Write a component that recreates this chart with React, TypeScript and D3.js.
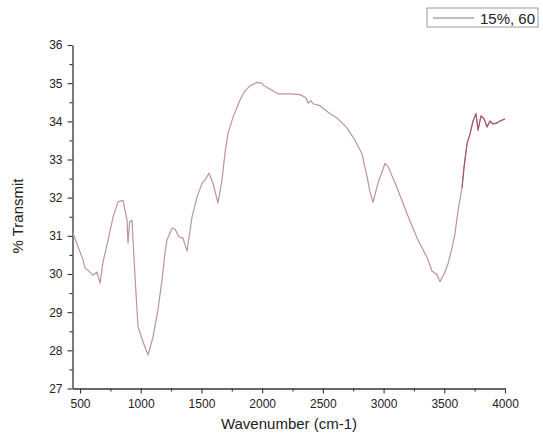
import React, { useEffect, useRef } from "react";
import * as d3 from "d3";

// FTIR spectrum
const wavenumber = [
  442, 484, 525, 541, 582, 607, 640, 665, 689, 731, 772, 813, 854, 887, 895, 908,
  928, 953, 978, 1019, 1060, 1101, 1142, 1175, 1200, 1216, 1258, 1282, 1315, 1348,
  1381, 1398, 1422, 1464, 1505, 1529, 1562, 1595, 1636, 1669, 1694, 1719, 1760,
  1818, 1859, 1900, 1958, 1999, 2007, 2065, 2131, 2229, 2312, 2361, 2378, 2402,
  2419, 2476, 2559, 2616, 2699, 2765, 2822, 2864, 2888, 2913, 2954, 3012, 3036,
  3111, 3193, 3275, 3358, 3399, 3440, 3465, 3506, 3531, 3564, 3588, 3613, 3646,
  3662, 3687, 3712, 3736, 3761, 3778, 3802, 3827, 3852, 3876, 3901, 3934, 3967, 4000,
];
const transmit = [
  31.07, 30.71, 30.37, 30.16, 30.05, 29.97, 30.05, 29.76, 30.31, 30.89, 31.49, 31.89,
  31.93, 31.41, 30.81, 31.36, 31.41, 29.92, 28.61, 28.22, 27.88, 28.35, 29.06, 29.84,
  30.55, 30.89, 31.2, 31.18, 30.97, 30.94, 30.6, 30.97, 31.49, 32.02, 32.38, 32.46,
  32.64, 32.38, 31.86, 32.46, 33.17, 33.69, 34.11, 34.56, 34.8, 34.93, 35.02, 35.0,
  34.95, 34.84, 34.72, 34.72, 34.7, 34.62, 34.48, 34.54, 34.46, 34.41, 34.2, 34.09,
  33.83, 33.5, 33.15, 32.55, 32.15, 31.88, 32.38, 32.9, 32.82, 32.26, 31.58, 30.95,
  30.43, 30.08, 29.98, 29.8, 30.06, 30.27, 30.69, 31.05, 31.66, 32.26, 32.78, 33.41,
  33.67, 34.0, 34.2, 33.77, 34.14, 34.07, 33.85, 34.01, 33.93, 33.96, 34.02, 34.06,
];

const xTicks = [500, 1000, 1500, 2000, 2500, 3000, 3500, 4000];
const xMinorTicks = [750, 1250, 1750, 2250, 2750, 3250, 3750];
const yTicks = [27, 28, 29, 30, 31, 32, 33, 34, 35, 36];
const yMinorTicks = [27.5, 28.5, 29.5, 30.5, 31.5, 32.5, 33.5, 34.5, 35.5];
const seriesName = "15%, 60";

const font = "'Liberation Sans', Arial, sans-serif";

export default function App() {
  const ref = useRef<SVGSVGElement>(null);

  useEffect(() => {
    const svg = d3.select(ref.current);
    svg.selectAll("*").remove();

    const x = d3.scaleLinear().domain([438, 4000]).range([72.5, 505]);
    const y = d3.scaleLinear().domain([27, 36]).range([388.5, 45]);
    const axisColor = "#333";

    // y axis
    const gy = svg.append("g").attr("transform", `translate(${x.range()[0]},0)`);
    gy.call(d3.axisLeft(y).tickValues(yTicks).tickSize(5).tickSizeOuter(0).tickPadding(5)
      .tickFormat(d3.format("d")));
    gy.append("g").call(d3.axisLeft(y).tickValues(yMinorTicks).tickSize(3).tickFormat(() => ""))
      .select(".domain").remove();

    // x axis
    const gx = svg.append("g").attr("transform", `translate(0,${y.range()[0]})`);
    gx.call(d3.axisBottom(x).tickValues(xTicks).tickSize(5).tickSizeOuter(0).tickPadding(6)
      .tickFormat(d3.format("d")));
    gx.append("g").call(d3.axisBottom(x).tickValues(xMinorTicks).tickSize(3).tickFormat(() => ""))
      .select(".domain").remove();

    svg.selectAll(".domain").attr("stroke", axisColor).attr("stroke-width", 1.3);
    svg.selectAll(".tick line").attr("stroke", axisColor).attr("stroke-width", 1.1);
    svg.selectAll(".tick text").attr("fill", "#222").style("font-family", font).style("font-size", "12px");

    // axis titles
    svg.append("text")
      .attr("x", 289).attr("y", 429)
      .attr("text-anchor", "middle")
      .style("font-family", font).style("font-size", "15px").attr("fill", "#222")
      .text("Wavenumber (cm-1)");
    svg.append("text")
      .attr("transform", "translate(23,216) rotate(-90)")
      .attr("text-anchor", "middle")
      .style("font-family", font).style("font-size", "15px").attr("fill", "#222")
      .text("% Transmit");

    // spectrum
    const data = wavenumber.map((w, i) => [w, transmit[i]] as [number, number]);
    const line = d3.line<[number, number]>().x(d => x(d[0])).y(d => y(d[1]));
    svg.append("path")
      .datum(data)
      .attr("d", line)
      .attr("fill", "none")
      .attr("stroke", "#bc949a")
      .attr("stroke-width", 1.2)
      .attr("stroke-linejoin", "round");
    // the noisy high-wavenumber end looks darker red in the original
    svg.append("path")
      .datum(data.filter(d => d[0] >= 3640))
      .attr("d", line)
      .attr("fill", "none")
      .attr("stroke", "#a25562")
      .attr("stroke-width", 1.1)
      .attr("stroke-linejoin", "round");

    // legend
    const lg = svg.append("g").attr("transform", "translate(427,8)");
    lg.append("rect").attr("width", 111).attr("height", 19)
      .attr("fill", "#fff").attr("stroke", "#999").attr("stroke-width", 1);
    lg.append("line").attr("x1", 6).attr("x2", 47).attr("y1", 10).attr("y2", 10)
      .attr("stroke", "#b0a4a6").attr("stroke-width", 1.3);
    lg.append("text").attr("x", 108).attr("y", 15.5).attr("text-anchor", "end")
      .style("font-family", font).style("font-size", "15px").attr("fill", "#222")
      .text(seriesName);
  }, []);

  return (
    <svg
      ref={ref}
      width={543}
      height={439}
      style={{ position: "absolute", left: 0, top: 0, background: "#fff" }}
    />
  );
}
